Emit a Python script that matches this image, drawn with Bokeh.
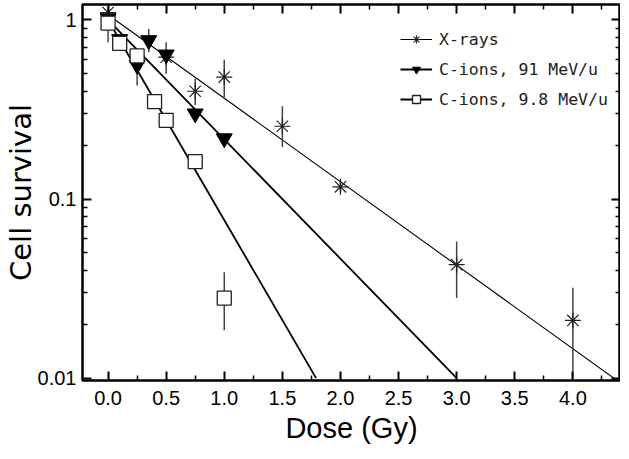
from bokeh.plotting import figure
from bokeh.models import (LinearAxis, LogAxis, FixedTicker, PrintfTickFormatter,
                          CustomJSTickFormatter, Legend, LegendItem, Range1d)
from bokeh.embed import file_html
from bokeh.resources import INLINE

# ---- data ----
xray_dose = [0.0, 0.5, 0.75, 1.0, 1.5, 2.0, 3.0, 4.0]
xray_surv = [1.10, 0.62, 0.40, 0.48, 0.255, 0.117, 0.043, 0.021]
xray_lo = [1.04, 0.50, 0.335, 0.37, 0.195, 0.110, 0.028, 0.010]
xray_hi = [1.16, 0.75, 0.47, 0.60, 0.33, 0.125, 0.058, 0.032]

c91_dose = [0.0, 0.1, 0.25, 0.35, 0.5, 0.75, 1.0]
c91_surv = [1.02, 0.78, 0.56, 0.77, 0.64, 0.30, 0.218]
c91_lo = [0.98, 0.74, 0.43, 0.66, 0.61, 0.29, 0.21]
c91_hi = [1.06, 0.82, 0.66, 0.89, 0.67, 0.31, 0.226]

c98_dose = [0.0, 0.1, 0.25, 0.4, 0.5, 0.75, 1.0]
c98_surv = [0.96, 0.74, 0.63, 0.35, 0.275, 0.162, 0.028]
c98_lo = [0.75, 0.67, 0.60, 0.34, 0.25, 0.155, 0.0185]
c98_hi = [1.02, 0.80, 0.68, 0.36, 0.30, 0.17, 0.039]

# fitted exponential lines (end points)
fit_xray_dose = [0.0, 4.4]
fit_xray_surv = [1.07, 0.0095]
fit_c91_dose = [0.0, 3.0]
fit_c91_surv = [1.0, 0.01]
fit_c98_dose = [0.0, 1.79]
fit_c98_surv = [1.0, 0.01]

x_ticks = [0.0, 0.5, 1.0, 1.5, 2.0, 2.5, 3.0, 3.5, 4.0]
x_minor = [0.25, 0.75, 1.25, 1.75, 2.25, 2.75, 3.25, 3.75, 4.25]
y_ticks = [0.01, 0.1, 1.0]
y_minor = [0.02, 0.03, 0.04, 0.05, 0.06, 0.07, 0.08, 0.09,
           0.2, 0.3, 0.4, 0.5, 0.6, 0.7, 0.8, 0.9]

labels = ["X-rays", "C-ions, 91 MeV/u", "C-ions, 9.8 MeV/u"]

p = figure(frame_width=538, frame_height=376, y_axis_type="log",
           x_range=Range1d(-0.22, 4.41), y_range=Range1d(0.0097, 1.22),
           output_backend="svg", toolbar_location=None,
           min_border_left=0, min_border_right=0, min_border_top=4, min_border_bottom=0)
p.background_fill_color = None
p.border_fill_color = None
p.grid.visible = False
p.outline_line_color = "black"
p.outline_line_width = 2.5

TICK_FONT = "Liberation Sans"

def style_axis(ax, show_labels):
    ax.axis_line_color = None
    ax.major_tick_in = 9
    ax.major_tick_out = 0
    ax.minor_tick_in = 5
    ax.minor_tick_out = 0
    ax.major_tick_line_color = "black"
    ax.minor_tick_line_color = "black"
    ax.major_tick_line_width = 2
    ax.minor_tick_line_width = 1.5
    if show_labels:
        ax.major_label_text_font = TICK_FONT
        ax.major_label_text_font_size = "20px"
        ax.major_label_text_color = "black"
        ax.axis_label_text_font = "Liberation Sans"
        ax.axis_label_text_font_size = "29px"
        ax.axis_label_text_font_style = "normal"
        ax.axis_label_text_color = "black"
    else:
        ax.formatter = CustomJSTickFormatter(code="return ''")
        ax.major_label_text_font_size = "1px"
        ax.major_label_standoff = 0

xt = FixedTicker(ticks=x_ticks, minor_ticks=x_minor)
yt = FixedTicker(ticks=y_ticks, minor_ticks=y_minor)

xa = p.xaxis[0]
xa.ticker = xt
xa.formatter = PrintfTickFormatter(format="%.1f")
xa.axis_label = "Dose (Gy)"
xa.major_label_standoff = 10
xa.axis_label_standoff = 4
style_axis(xa, True)

ya = p.yaxis[0]
ya.ticker = yt
ya.formatter = CustomJSTickFormatter(code="return tick >= 1 ? '1' : String(tick)")
ya.axis_label = "Cell survival"
ya.major_label_standoff = 6
ya.axis_label_standoff = -3
style_axis(ya, True)
ya.axis_label_text_font = "DejaVu Sans"
ya.axis_label_text_font_size = "29px"

top = LinearAxis(ticker=FixedTicker(ticks=x_ticks, minor_ticks=x_minor))
style_axis(top, False)
p.add_layout(top, "above")
right = LogAxis(ticker=FixedTicker(ticks=y_ticks, minor_ticks=y_minor))
style_axis(right, False)
p.add_layout(right, "right")

# fit lines
l1 = p.line(fit_xray_dose, fit_xray_surv, line_color="black", line_width=1.1)
l2 = p.line(fit_c91_dose, fit_c91_surv, line_color="black", line_width=1.8)
l3 = p.line(fit_c98_dose, fit_c98_surv, line_color="black", line_width=1.8)

# error bars
for d, lo, hi in [(xray_dose, xray_lo, xray_hi), (c91_dose, c91_lo, c91_hi),
                  (c98_dose, c98_lo, c98_hi)]:
    p.segment(x0=d, y0=lo, x1=d, y1=hi, line_color="#444444", line_width=1.5)

# markers
m1 = p.scatter(xray_dose, xray_surv, marker="asterisk", size=16,
               line_color="#222222", line_width=1.2)
m2 = p.scatter(c91_dose, c91_surv, marker="inverted_triangle", size=16,
               fill_color="black", line_color="black")
m3 = p.scatter(c98_dose, c98_surv, marker="square", size=14,
               fill_color="white", line_color="#222222", line_width=1.3)

legend = Legend(items=[LegendItem(label=labels[0], renderers=[l1, m1]),
                       LegendItem(label=labels[1], renderers=[l2, m2]),
                       LegendItem(label=labels[2], renderers=[l3, m3])],
                location=(318, 271))
legend.background_fill_alpha = 0
legend.border_line_color = None
legend.label_text_font = "DejaVu Sans Mono"
legend.label_text_font_size = "16.5px"
legend.label_text_color = "#222222"
legend.glyph_width = 32
legend.glyph_height = 20
legend.label_height = 20
legend.spacing = 10
legend.label_standoff = 7
legend.padding = 4
legend.margin = 0
p.add_layout(legend, "center")

open("out.html", "w").write(file_html(p, INLINE))
